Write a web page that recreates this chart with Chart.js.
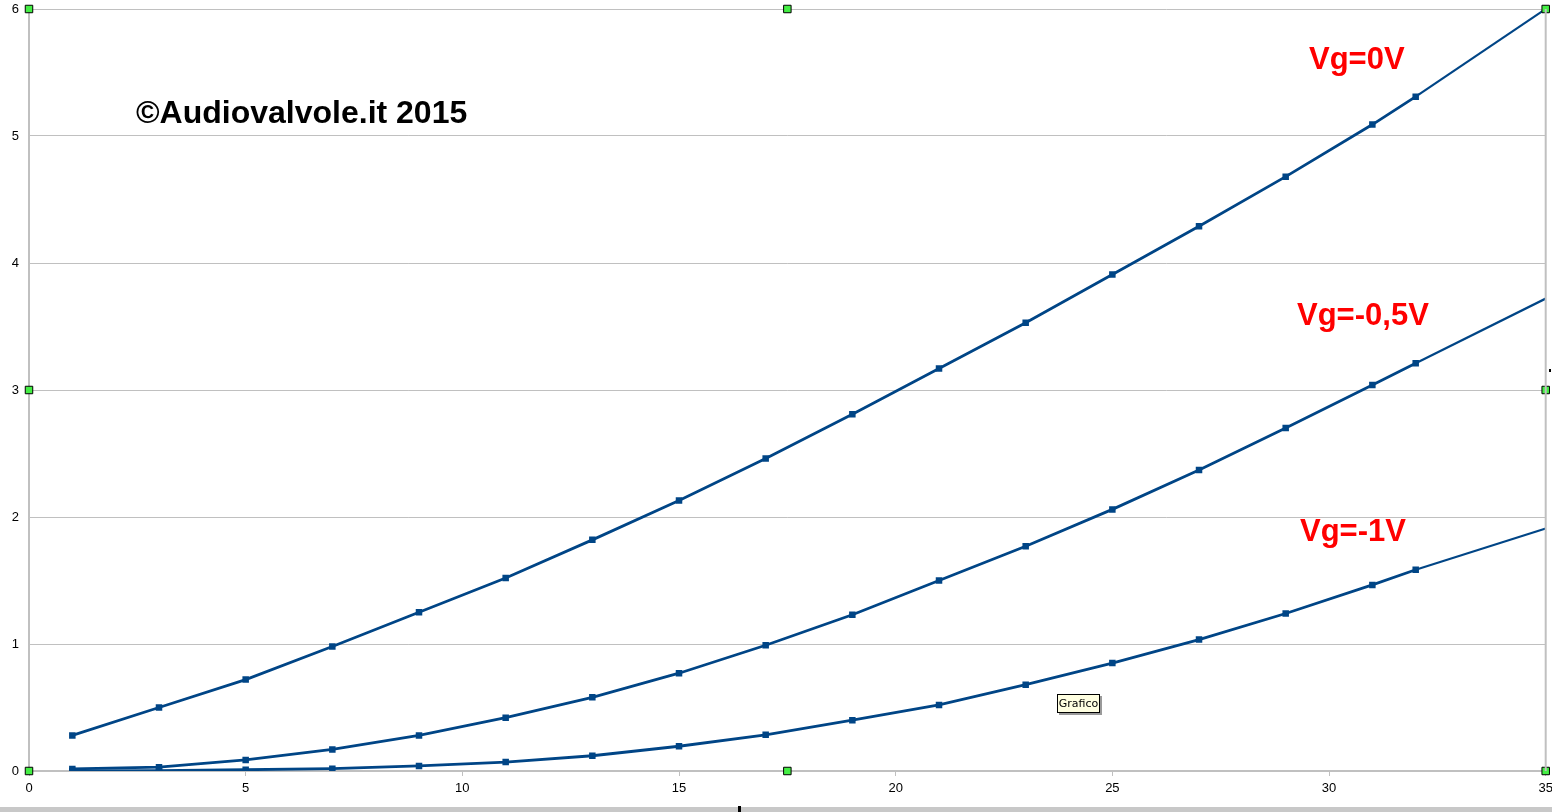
<!DOCTYPE html>
<html>
<head>
<meta charset="utf-8">
<script src="https://cdn.jsdelivr.net/npm/chart.js@4.4.0/dist/chart.umd.min.js"></script>
<style>
  html, body { margin: 0; padding: 0; background: #ffffff; overflow: hidden; }
  #wrap { position: relative; width: 1552px; height: 812px; }
</style>
</head>
<body>
<div id="wrap"><canvas id="c" width="1552" height="812"></canvas></div>
<script>
// Anode voltage (V) values
const xValues = [1, 3, 5, 7, 9, 11, 13, 15, 17, 19, 21, 23, 25, 27, 29, 31, 32, 35];
// Anode current for each grid voltage
const vg0   = [0.28, 0.50, 0.72, 0.98, 1.25, 1.52, 1.82, 2.13, 2.46, 2.81, 3.17, 3.53, 3.91, 4.29, 4.68, 5.09, 5.31, 6.00];
const vgM05 = [0.016, 0.03, 0.087, 0.17, 0.28, 0.42, 0.58, 0.77, 0.99, 1.23, 1.50, 1.77, 2.06, 2.37, 2.70, 3.04, 3.21, 3.72];
const vgM1  = [0.0, 0.003, 0.01, 0.018, 0.04, 0.07, 0.12, 0.195, 0.285, 0.40, 0.52, 0.68, 0.85, 1.035, 1.24, 1.465, 1.585, 1.91];
const seriesLabels = ['Vg=0V', 'Vg=-0,5V', 'Vg=-1V'];
// Selection handles (chart editor)
const handleX = [0, 17.5, 35, 0, 35, 0, 17.5, 35];
const handleY = [0, 0, 0, 3, 3, 6, 6, 6];
const xTicks = [0, 5, 10, 15, 20, 25, 30, 35];
const yTicks = [0, 1, 2, 3, 4, 5, 6];

const lineColor = '#004586';
const lastIdx = xValues.length - 1;

function toPoints(ys) { return xValues.map((x, i) => ({ x: x, y: ys[i] })); }

function seriesDataset(label, ys) {
  return {
    label: label,
    data: toPoints(ys),
    showLine: true,
    borderColor: lineColor,
    backgroundColor: lineColor,
    borderWidth: 2.8,
    pointStyle: 'rect',
    pointRadius: xValues.map((x, i) => i === lastIdx ? 0 : 4.6),
    pointBorderWidth: 0,
    pointHoverRadius: 4.6,
    segment: { borderWidth: ctx => ctx.p1DataIndex === lastIdx ? 2.2 : 2.8 },
    order: 1
  };
}

const annotations = {
  id: 'annotations',
  afterDraw(chart) {
    const ctx = chart.ctx;
    const area = chart.chartArea;
    ctx.save();
    // right border of plot
    ctx.strokeStyle = '#c0c0c0';
    ctx.lineWidth = 2;
    ctx.beginPath();
    ctx.moveTo(area.right, area.top);
    ctx.lineTo(area.right, area.bottom);
    ctx.stroke();

    // copyright
    ctx.fillStyle = '#000000';
    ctx.font = 'bold 32px "Liberation Sans", Arial, sans-serif';
    ctx.textBaseline = 'middle';
    ctx.textAlign = 'left';
    ctx.fillText('\u00A9Audiovalvole.it 2015', 136, 114);

    // series labels
    ctx.fillStyle = '#ff0000';
    ctx.font = 'bold 31px "Liberation Sans", Arial, sans-serif';
    ctx.fillText(seriesLabels[0], 1309, 60);
    ctx.fillText(seriesLabels[1], 1297, 316);
    ctx.fillText(seriesLabels[2], 1300, 532);

    // "Grafico" tooltip box
    ctx.fillStyle = '#9a9a9a';
    ctx.fillRect(1059, 696, 43, 19);
    ctx.fillStyle = '#ffffe1';
    ctx.fillRect(1057, 694, 43, 19);
    ctx.strokeStyle = '#000000';
    ctx.lineWidth = 1;
    ctx.strokeRect(1057.5, 694.5, 42, 18);
    ctx.fillStyle = '#000000';
    ctx.font = '11px "DejaVu Sans", sans-serif';
    ctx.textAlign = 'center';
    ctx.fillText('Grafico', 1078.5, 704);

    // bottom status strip
    ctx.fillStyle = '#c8c8c8';
    ctx.fillRect(0, 807, 1552, 5);
    ctx.fillStyle = '#000000';
    ctx.fillRect(738, 806, 3, 6);
    ctx.fillRect(1549, 369, 2, 3);
    ctx.restore();
  }
};

new Chart(document.getElementById('c'), {
  type: 'scatter',
  data: {
    datasets: [
      {
        label: 'handles',
        data: handleX.map((x, i) => ({ x: x, y: handleY[i] })),
        showLine: false,
        pointStyle: 'rect',
        pointRadius: 5.3,
        pointBackgroundColor: '#44ee44',
        pointBorderColor: '#000000',
        pointBorderWidth: 1,
        clip: false,
        order: 0
      },
      seriesDataset(seriesLabels[0], vg0),
      seriesDataset(seriesLabels[1], vgM05),
      seriesDataset(seriesLabels[2], vgM1)
    ]
  },
  options: {
    responsive: false,
    animation: false,
    devicePixelRatio: 1,
    layout: { padding: { left: 0, top: 9, right: 6, bottom: 0 } },
    plugins: { legend: { display: false }, tooltip: { enabled: false } },
    scales: {
      x: {
        type: 'linear',
        min: 0, max: 35,
        afterBuildTicks: s => { s.ticks = xTicks.map(v => ({ value: v })); },
        afterFit: s => { s.height = 41; s.paddingLeft = 0; s.paddingRight = 0; },
        grid: { drawOnChartArea: false, drawTicks: true, tickLength: 5, color: '#c0c0c0', lineWidth: 1 },
        border: { color: '#c0c0c0', width: 2 },
        ticks: { color: '#000000', padding: 5, maxRotation: 0, font: { family: '"Liberation Sans", Arial, sans-serif', size: 13 } }
      },
      y: {
        type: 'linear',
        min: 0, max: 6,
        afterBuildTicks: s => { s.ticks = yTicks.map(v => ({ value: v })); },
        afterFit: s => { s.width = 29; s.paddingTop = 0; s.paddingBottom = 0; },
        grid: { drawOnChartArea: true, drawTicks: false, color: '#c0c0c0', lineWidth: 1 },
        border: { color: '#c0c0c0', width: 2 },
        ticks: { color: '#000000', padding: 10, font: { family: '"Liberation Sans", Arial, sans-serif', size: 13 } }
      }
    }
  },
  plugins: [annotations]
});
</script>
</body>
</html>
